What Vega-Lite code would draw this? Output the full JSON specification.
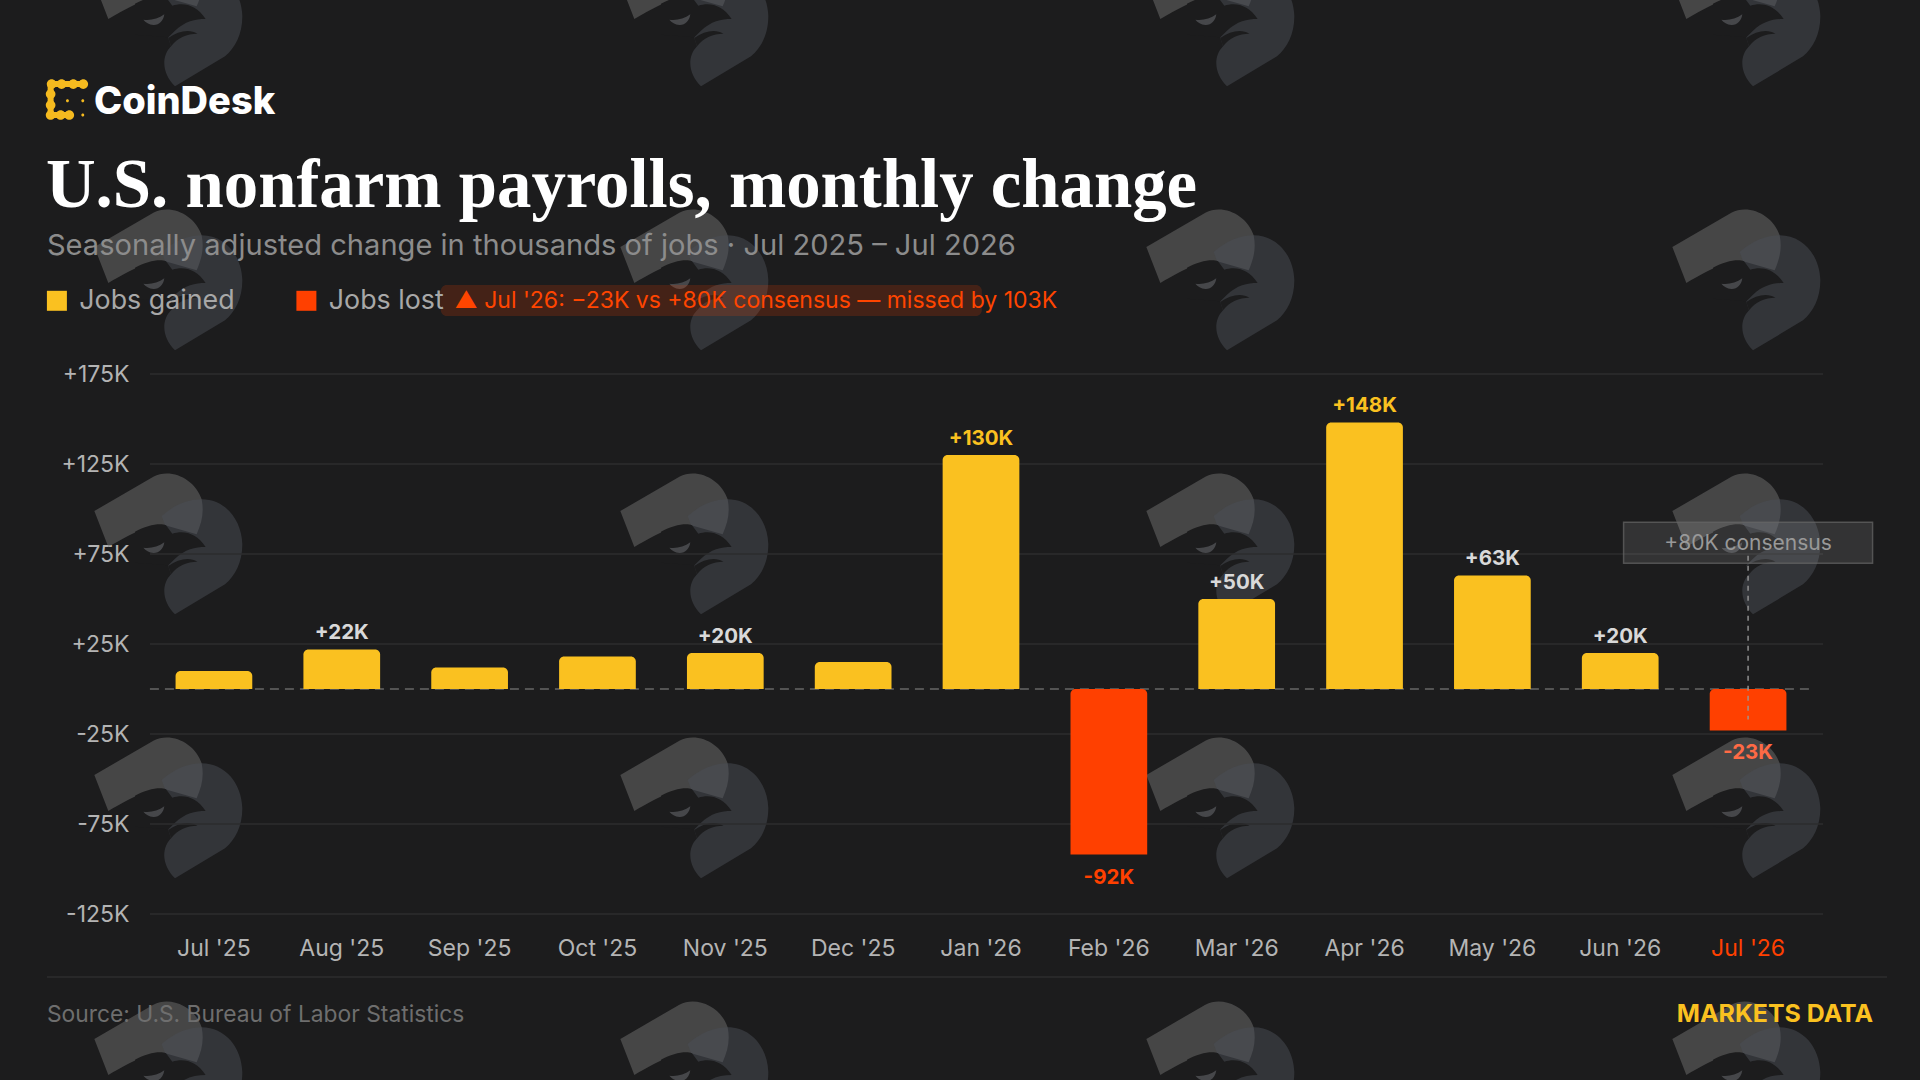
{
  "$schema": "https://vega.github.io/schema/vega-lite/v6.json",
  "width": 1662,
  "height": 540,
  "autosize": {"type": "none"},
  "padding": {"left": 150, "top": 374, "right": 108, "bottom": 166},
  "background": "#1c1c1d",
  "config": {
    "font": "Inter",
    "view": {"stroke": null}
  },
  "datasets": {
    "payrolls": [
      {"month": "Jul '25", "value": 10, "direction": "Jobs gained"},
      {"month": "Aug '25", "value": 22, "direction": "Jobs gained", "label": "+22K"},
      {"month": "Sep '25", "value": 12, "direction": "Jobs gained"},
      {"month": "Oct '25", "value": 18, "direction": "Jobs gained"},
      {"month": "Nov '25", "value": 20, "direction": "Jobs gained", "label": "+20K"},
      {"month": "Dec '25", "value": 15, "direction": "Jobs gained"},
      {"month": "Jan '26", "value": 130, "direction": "Jobs gained", "label": "+130K"},
      {"month": "Feb '26", "value": -92, "direction": "Jobs lost", "label": "-92K"},
      {"month": "Mar '26", "value": 50, "direction": "Jobs gained", "label": "+50K"},
      {"month": "Apr '26", "value": 148, "direction": "Jobs gained", "label": "+148K"},
      {"month": "May '26", "value": 63, "direction": "Jobs gained", "label": "+63K"},
      {"month": "Jun '26", "value": 20, "direction": "Jobs gained", "label": "+20K"},
      {"month": "Jul '26", "value": -23, "direction": "Jobs lost", "label": "-23K"}
    ],
    "ticks": [
      {"tick": -125}, {"tick": -75}, {"tick": -25}, {"tick": 25}, {"tick": 75}, {"tick": 125}, {"tick": 175}
    ],
    "watermark": [
      {"col": 0, "row": 0}, {"col": 1, "row": 0}, {"col": 2, "row": 0}, {"col": 3, "row": 0},
      {"col": 0, "row": 1}, {"col": 1, "row": 1}, {"col": 2, "row": 1}, {"col": 3, "row": 1},
      {"col": 0, "row": 2}, {"col": 1, "row": 2}, {"col": 2, "row": 2}, {"col": 3, "row": 2},
      {"col": 0, "row": 3}, {"col": 1, "row": 3}, {"col": 2, "row": 3}, {"col": 3, "row": 3},
      {"col": 0, "row": 4}, {"col": 1, "row": 4}, {"col": 2, "row": 4}, {"col": 3, "row": 4}
    ]
  },
  "resolve": {"scale": {"x": "independent", "y": "independent"}},
  "layer": [
    {
      "data": {"name": "watermark"},
      "encoding": {
        "x": {"field": "col", "type": "quantitative", "axis": null, "scale": {"domain": [0, 3], "range": [18, 1596], "nice": false, "zero": false}},
        "y": {"field": "row", "type": "quantitative", "axis": null, "scale": {"domain": [0, 4], "range": [-359, 697], "nice": false, "zero": false}}
      },
      "layer": [
        {"mark": {"type": "point", "filled": true, "size": 4444, "color": "#707070", "opacity": 0.5, "strokeWidth": 0,
          "shape": "M-2.21,-0.96L-0.44,-1.99C0.11,-2.26,0.81,-1.91,1.01,-1.31C1.09,-0.91,1.01,-0.61,0.86,-0.26L-0.09,-0.53C-0.49,-0.56,-0.89,-0.41,-1.79,0.12Z"}},
        {"mark": {"type": "point", "filled": true, "size": 4444, "color": "#4a4e55", "opacity": 0.5, "strokeWidth": 0,
          "shape": "M-0.19,-0.81C0.21,-1.16,0.61,-1.31,1.01,-1.31C1.71,-1.31,2.21,-0.71,2.23,0.04C2.23,0.59,2.01,0.99,1.71,1.24L0.21,2.14C-0.14,1.79,-0.24,1.29,0.09,0.94L0.01,0.69L-0.09,-0.53Z"}},
        {"mark": {"type": "point", "filled": true, "size": 4444, "color": "#1c1c1d", "opacity": 1, "strokeWidth": 0,
          "shape": "M-0.99,-0.34C-0.64,-0.53,-0.24,-0.61,-0.06,-0.53L0.13,-0.28C0.46,-0.39,0.86,-0.31,1.13,0.12C0.81,0.12,0.51,0.19,0.21,0.47L0.01,0.67L-0.99,0.59Z"}},
        {"mark": {"type": "point", "filled": true, "size": 4444, "color": "#1c1c1d", "opacity": 1, "strokeWidth": 0,
          "shape": "M0.01,0.69C0.31,0.47,0.66,0.41,0.88,0.56C0.56,0.57,0.31,0.66,0.09,0.94Z"}},
        {"mark": {"type": "point", "filled": true, "size": 4444, "color": "#46474a", "opacity": 1, "strokeWidth": 0,
          "shape": "M-0.74,0.14C-0.54,0.17,-0.29,0.12,-0.11,-0.02C-0.14,0.19,-0.27,0.31,-0.44,0.30C-0.57,0.29,-0.67,0.22,-0.74,0.14Z"}}
      ]
    },
    {
      "data": {"name": "payrolls"},
      "layer": [
        {
          "data": {"name": "ticks"},
          "mark": {"type": "rule", "color": "#2d2d2e", "strokeWidth": 1.5, "xOffset": -64, "x2Offset": 75},
          "encoding": {
            "x": {"datum": "Jul '25"},
            "x2": {"datum": "Jul '26"},
            "y": {"field": "tick", "type": "quantitative", "scale": {"domain": [-125, 175], "nice": false}}
          }
        },
        {
          "data": {"values": [{"note": "zero"}]},
          "mark": {"type": "rule", "color": "#666666", "strokeWidth": 1.5, "strokeDash": [9, 6], "xOffset": -64, "x2Offset": 65},
          "encoding": {
            "x": {"datum": "Jul '25"},
            "x2": {"datum": "Jul '26"},
            "y": {"datum": 0, "scale": {"domain": [-125, 175], "nice": false}}
          }
        },
        {
          "mark": {"type": "bar", "cornerRadiusEnd": 5},
          "encoding": {
            "x": {
              "field": "month",
              "type": "nominal",
              "sort": null,
              "title": null,
              "scale": {
                "domain": ["Jul '25", "Aug '25", "Sep '25", "Oct '25", "Nov '25", "Dec '25", "Jan '26", "Feb '26", "Mar '26", "Apr '26", "May '26", "Jun '26", "Jul '26"],
                "paddingInner": 0.4,
                "paddingOuter": 0.2
              },
              "axis": {
                "labelAngle": 0,
                "labelAlign": "center",
                "ticks": false,
                "domain": false,
                "grid": false,
                "labelPadding": 34,
                "labelFontSize": 23,
                "labelFont": "Inter",
                "labelColor": {"condition": {"test": "datum.value == \"Jul '26\"", "value": "#ff4000"}, "value": "#b4b4b4"}
              }
            },
            "y": {
              "field": "value",
              "type": "quantitative",
              "title": null,
              "stack": null,
              "scale": {"domain": [-125, 175], "nice": false},
              "axis": {
                "values": [-125, -75, -25, 25, 75, 125, 175],
                "labelExpr": "datum.value > 0 ? '+' + datum.value + 'K' : '-' + abs(datum.value) + 'K'",
                "ticks": false,
                "domain": false,
                "grid": false,
                "labelPadding": 21,
                "labelFontSize": 23,
                "labelFont": "Inter",
                "labelColor": "#b4b4b4"
              }
            },
            "color": {
              "field": "direction",
              "type": "nominal",
              "scale": {"domain": ["Jobs gained", "Jobs lost"], "range": ["#fac120", "#ff4000"]},
              "legend": {
                "title": null,
                "orient": "none",
                "legendX": -106.5,
                "legendY": -87,
                "direction": "horizontal",
                "columns": 2,
                "columnPadding": 57.5,
                "symbolType": "square",
                "symbolSize": 400,
                "symbolStrokeWidth": 0,
                "labelFont": "Inter",
                "labelFontSize": 26.8,
                "labelColor": "#a8a8a8",
                "labelOffset": 9,
                "labelLimit": 300
              }
            }
          }
        },
        {
          "transform": [{"filter": "datum.label && datum.value > 0"}],
          "mark": {"type": "text", "fontSize": 20.5, "fontWeight": "bold", "baseline": "middle", "dy": -16.5},
          "encoding": {
            "x": {"field": "month", "type": "nominal"},
            "y": {"field": "value", "type": "quantitative", "scale": {"domain": [-125, 175], "nice": false}},
            "text": {"field": "label"},
            "color": {"condition": {"test": "datum.value > 100", "value": "#fac120"}, "value": "#d9d9d9"}
          }
        },
        {
          "transform": [{"filter": "datum.label && datum.value < 0"}],
          "mark": {"type": "text", "fontSize": 20.5, "fontWeight": "bold", "baseline": "middle", "dy": 23},
          "encoding": {
            "x": {"field": "month", "type": "nominal"},
            "y": {"field": "value", "type": "quantitative", "scale": {"domain": [-125, 175], "nice": false}},
            "text": {"field": "label"},
            "color": {"condition": {"test": "datum.value > -50", "value": "#ff6a45"}, "value": "#ff4000"}
          }
        },
        {
          "data": {"values": [{"label": "+80K consensus", "month": "Jul '26"}]},
          "mark": {"type": "rect", "width": 249, "height": 41, "fill": "#ffffff", "fillOpacity": 0.1, "stroke": "#666666", "strokeOpacity": 0.7, "strokeWidth": 1.5},
          "encoding": {
            "x": {"field": "month", "type": "nominal"},
            "y": {"datum": 81.3, "scale": {"domain": [-125, 175], "nice": false}}
          }
        },
        {
          "data": {"values": [{"label": "+80K consensus", "month": "Jul '26"}]},
          "mark": {"type": "rule", "color": "#9a9a9a", "strokeWidth": 1.5, "strokeDash": [5, 5], "opacity": 0.9},
          "encoding": {
            "x": {"field": "month", "type": "nominal"},
            "y": {"datum": 74, "scale": {"domain": [-125, 175], "nice": false}},
            "y2": {"datum": -17}
          }
        },
        {
          "data": {"values": [{"label": "+80K consensus", "month": "Jul '26"}]},
          "mark": {"type": "text", "fontSize": 21, "color": "#999999", "baseline": "middle"},
          "encoding": {
            "x": {"field": "month", "type": "nominal"},
            "y": {"datum": 80.6, "scale": {"domain": [-125, 175], "nice": false}},
            "text": {"field": "label"}
          }
        },
        {
          "data": {"values": [{"label": "chip"}]},
          "mark": {"type": "rect", "width": 541, "height": 31, "xOffset": -14, "fill": "#ff4000", "fillOpacity": 0.18, "cornerRadius": 6},
          "encoding": {
            "x": {"datum": "Nov '25"},
            "y": {"datum": 215.8, "scale": {"domain": [-125, 175], "nice": false}}
          }
        },
        {
          "data": {"values": [{"label": "▲ Jul '26: −23K vs +80K consensus — missed by 103K"}]},
          "mark": {"type": "text", "fontSize": 23, "color": "#ff4500", "align": "left", "baseline": "middle", "dx": -143},
          "encoding": {
            "x": {"datum": "Oct '25"},
            "y": {"datum": 215.8, "scale": {"domain": [-125, 175], "nice": false}},
            "text": {"field": "label"}
          }
        },
        {
          "data": {"values": [{"label": "footer"}]},
          "mark": {"type": "rule", "color": "#2d2d2e", "strokeWidth": 1.5, "xOffset": -167, "x2Offset": 139},
          "encoding": {
            "x": {"datum": "Jul '25"},
            "x2": {"datum": "Jul '26"},
            "y": {"datum": -160, "scale": {"domain": [-125, 175], "nice": false}}
          }
        },
        {
          "data": {"values": [{"label": "Source: U.S. Bureau of Labor Statistics"}]},
          "mark": {"type": "text", "fontSize": 22.8, "color": "#6e6e6e", "align": "left", "baseline": "middle", "dx": -167},
          "encoding": {
            "x": {"datum": "Jul '25"},
            "y": {"datum": -181.2, "scale": {"domain": [-125, 175], "nice": false}},
            "text": {"field": "label"}
          }
        },
        {
          "data": {"values": [{"label": "MARKETS DATA"}]},
          "mark": {"type": "text", "fontSize": 24.9, "fontWeight": "bold", "color": "#fac120", "align": "right", "baseline": "middle", "dx": 125},
          "encoding": {
            "x": {"datum": "Jul '26"},
            "y": {"datum": -181, "scale": {"domain": [-125, 175], "nice": false}},
            "text": {"field": "label"}
          }
        },
        {
          "data": {"values": [{"label": "logo"}]},
          "mark": {"type": "point", "filled": false, "size": 44.4, "stroke": "#f5ba1f", "strokeWidth": 6, "strokeCap": "round", "strokeJoin": "round", "opacity": 1, "xOffset": -147.3,
            "shape": "M5,-4.8L-4.8,-4.8L-4.8,4.5L0.8,4.5"},
          "encoding": {
            "x": {"datum": "Jul '25"},
            "y": {"datum": 327.2, "scale": {"domain": [-125, 175], "nice": false}}
          }
        },
        {
          "data": {"values": [{"label": "logo"}]},
          "mark": {"type": "point", "filled": true, "size": 44.4, "color": "#f5ba1f", "opacity": 1, "xOffset": -147.3, "strokeWidth": 0,
            "shape": "M-5.95,-4.8a1.45,1.45 0 1,0 2.9,0a1.45,1.45 0 1,0 -2.9,0ZM-2.95,-4.8a1.45,1.45 0 1,0 2.9,0a1.45,1.45 0 1,0 -2.9,0ZM0.55,-4.8a1.45,1.45 0 1,0 2.9,0a1.45,1.45 0 1,0 -2.9,0ZM3.55,-4.8a1.45,1.45 0 1,0 2.9,0a1.45,1.45 0 1,0 -2.9,0ZM-6.25,-1.8a1.45,1.45 0 1,0 2.9,0a1.45,1.45 0 1,0 -2.9,0ZM-6.25,1.5a1.45,1.45 0 1,0 2.9,0a1.45,1.45 0 1,0 -2.9,0ZM-6.25,4.5a1.45,1.45 0 1,0 2.9,0a1.45,1.45 0 1,0 -2.9,0ZM-3.25,4.5a1.45,1.45 0 1,0 2.9,0a1.45,1.45 0 1,0 -2.9,0ZM-0.65,4.5a1.45,1.45 0 1,0 2.9,0a1.45,1.45 0 1,0 -2.9,0ZM-0.2,0.2a0.45,0.45 0 1,0 0.9,0a0.45,0.45 0 1,0 -0.9,0ZM4.4,0.2a0.45,0.45 0 1,0 0.9,0a0.45,0.45 0 1,0 -0.9,0ZM4.4,4.5a0.45,0.45 0 1,0 0.9,0a0.45,0.45 0 1,0 -0.9,0Z"},
          "encoding": {
            "x": {"datum": "Jul '25"},
            "y": {"datum": 327.2, "scale": {"domain": [-125, 175], "nice": false}}
          }
        },
        {
          "data": {"values": [{"label": "CoinDesk"}]},
          "mark": {"type": "text", "fontSize": 38, "fontWeight": 800, "color": "#ffffff", "align": "left", "baseline": "middle", "dx": -120},
          "encoding": {
            "x": {"datum": "Jul '25"},
            "y": {"datum": 325.6, "scale": {"domain": [-125, 175], "nice": false}},
            "text": {"field": "label"}
          }
        },
        {
          "data": {"values": [{"label": "U.S. nonfarm payrolls, monthly change"}]},
          "mark": {"type": "text", "font": "Liberation Serif", "fontSize": 68.8, "fontWeight": "bold", "color": "#ffffff", "align": "left", "baseline": "alphabetic", "dx": -168},
          "encoding": {
            "x": {"datum": "Jul '25"},
            "y": {"datum": 267.8, "scale": {"domain": [-125, 175], "nice": false}},
            "text": {"field": "label"}
          }
        },
        {
          "data": {"values": [{"label": "Seasonally adjusted change in thousands of jobs · Jul 2025 – Jul 2026"}]},
          "mark": {"type": "text", "fontSize": 29.1, "color": "#8c8c8c", "align": "left", "baseline": "middle", "dx": -167},
          "encoding": {
            "x": {"datum": "Jul '25"},
            "y": {"datum": 246.1, "scale": {"domain": [-125, 175], "nice": false}},
            "text": {"field": "label"}
          }
        }
      ]
    }
  ]
}
